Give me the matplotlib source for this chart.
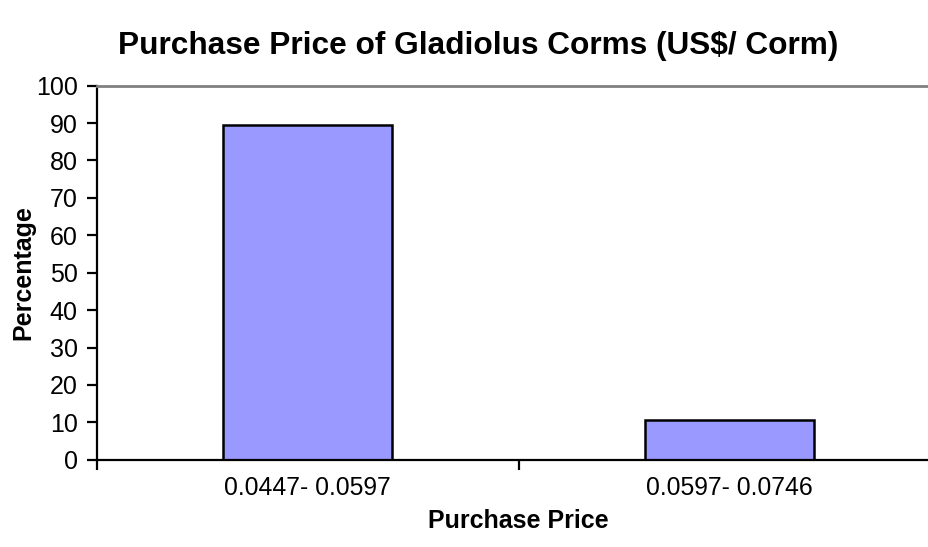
import matplotlib
matplotlib.use("Agg")
import matplotlib.pyplot as plt

categories = ["0.0447- 0.0597", "0.0597- 0.0746"]
percentages = [89.4, 10.6]
yticks = [0, 10, 20, 30, 40, 50, 60, 70, 80, 90, 100]

plt.rcParams['font.family'] = ['Liberation Sans', 'DejaVu Sans']

W, H = 929, 547
fig = plt.figure(figsize=(W / 100, H / 100), dpi=100)
ax = fig.add_axes([97 / W, 87.3 / H, 843 / W, 374 / H])

x = list(range(len(categories)))
ax.bar(x, percentages, width=0.4, color="#9999FF", edgecolor="black", linewidth=1.8, zorder=3)

ax.set_xlim(-0.5, 1.5)
ax.set_ylim(0, 100)
ax.set_yticks(yticks)
ax.set_yticklabels([str(v) for v in yticks], fontsize=18)
ax.set_xticks(x)
ax.set_xticklabels(categories, fontsize=17.8)
ax.tick_params(axis='x', length=0, pad=12)
ax.tick_params(axis='y', length=7, width=1.6, direction='out', pad=7)
ax.set_xticks([-0.5, 0.5, 1.5], minor=True)
ax.tick_params(axis='x', which='minor', length=7, width=1.6, direction='out')

ax.spines['right'].set_visible(False)
ax.spines['top'].set_color('#808080')
ax.spines['top'].set_linewidth(2)
ax.spines['left'].set_linewidth(1.6)
ax.spines['bottom'].set_linewidth(1.6)
ax.spines['bottom'].set_zorder(4)

ax.set_xlabel("Purchase Price", fontsize=18, fontweight='bold', labelpad=6)
ax.set_ylabel("Percentage", fontsize=18, fontweight='bold', labelpad=0)
fig.text(478 / W, 1 - 46 / H,
         "Purchase Price of Gladiolus Corms (US$/ Corm)",
         fontsize=22.8, fontweight='bold', ha='center', va='center')

fig.savefig("out.png", dpi=100)
